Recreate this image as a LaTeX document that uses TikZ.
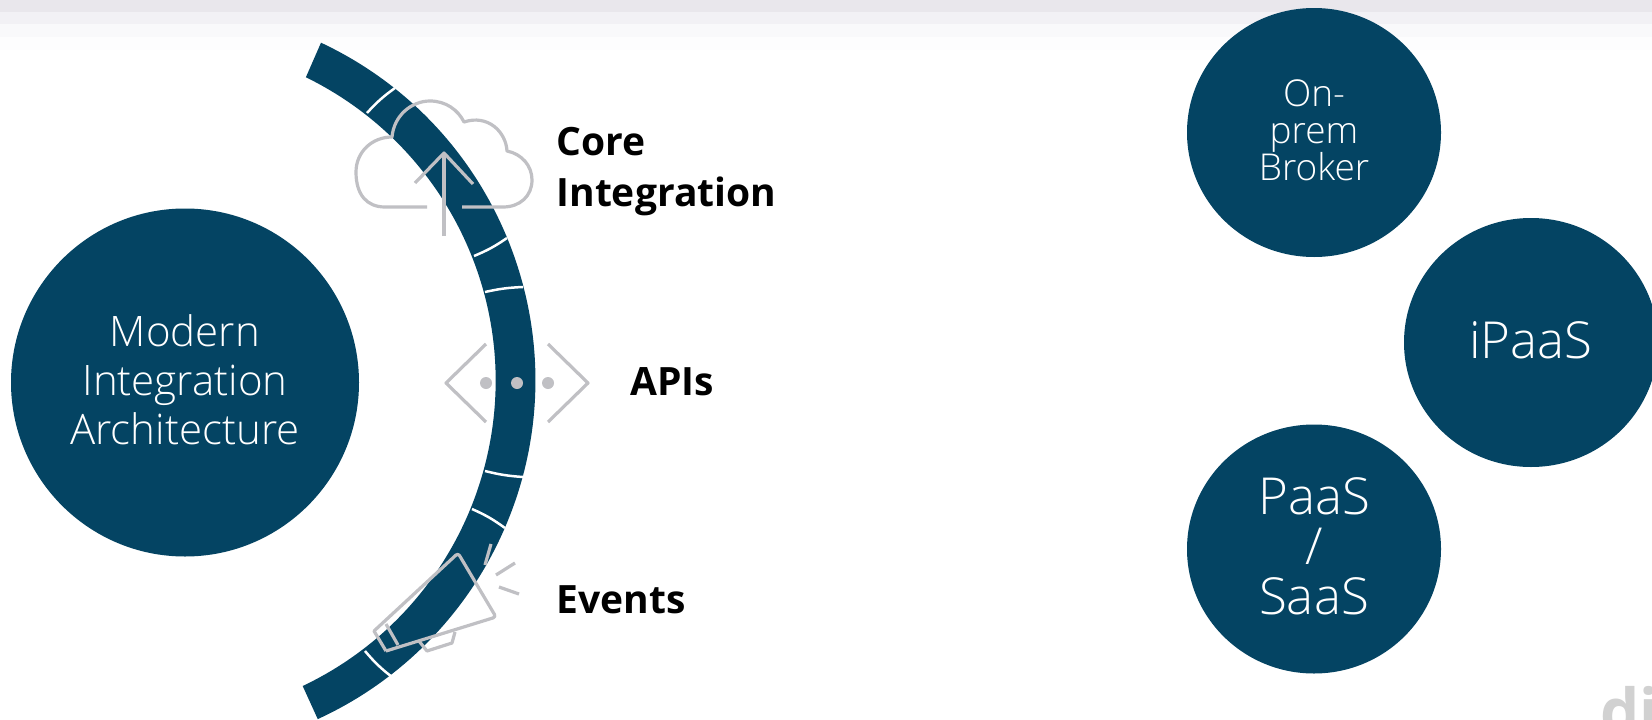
\documentclass[tikz,border=0pt]{standalone}
\usepackage{fontspec}
\usetikzlibrary{shapes.geometric}
\setmainfont{Open Sans}[UprightFont=* Light,BoldFont=* Bold]
\definecolor{bandblue}{HTML}{044463}
\definecolor{icongray}{HTML}{C0C0C4}
\definecolor{stripa}{HTML}{E9E7EC}
\definecolor{stripb}{HTML}{F2F1F5}
\definecolor{stripc}{HTML}{F9F9FB}
\definecolor{stripd}{HTML}{FDFDFE}
\tikzset{
  bluecircle/.style={ellipse,fill=bandblue,minimum width=254pt,minimum height=249pt,inner sep=0pt,text=white,align=center,text depth=5pt},
  bigcircle/.style={bluecircle,minimum width=348pt,minimum height=348pt},
  sidelabel/.style={anchor=west,align=left,font=\fontsize{39}{51}\selectfont\bfseries,text=black},
  iconline/.style={draw=icongray,line width=3.2pt,line join=round},
  gapline/.style={draw=white,line width=2.5pt}
}
\begin{document}
\begin{tikzpicture}[x=1pt,y=-1pt]
\useasboundingbox (0,0) rectangle (1652,720);
\fill[white] (0,0) rectangle (1652,720);
\fill[stripa] (0,0) rectangle (1652,12);
\fill[stripb] (0,12) rectangle (1652,24);
\fill[stripc] (0,24) rectangle (1652,37);
\fill[stripd] (0,37) rectangle (1652,50);

\node[bigcircle,font=\fontsize{42}{49}\selectfont](arch) at (185,382.5) {Modern\\Integration\\Architecture};

% band
\fill[bandblue] (321,42.7) arc[start angle=64.85,end angle=-65.4,radius=372.8pt]
  -- (302.7,686) arc[start angle=-64.6,end angle=64,radius=337.8pt] -- cycle;
\draw[gapline] (367,113) to[bend left=6] (395,88);
\draw[gapline] (474,256) to[bend right=6] (507,238);
\draw[gapline] (485,292) to[bend left=5] (523,287);
\draw[gapline] (485,471) to[bend right=5] (523,477);
\draw[gapline] (472,509) to[bend left=6] (505,528);
\draw[gapline] (365,651) to[bend right=6] (392,677);

% cloud
\draw[iconline] (427,207) -- (385,207) .. controls (367,207) and (356,195) .. (356,172)
  .. controls (356,152) and (372,137) .. (392,137)
  .. controls (394,115) and (412,101) .. (430,101)
  .. controls (446,101) and (458,110) .. (464,122)
  .. controls (488,114) and (506,132) .. (507,151)
  .. controls (522,154) and (532,166) .. (532,180)
  .. controls (532,196) and (520,207) .. (503,207) -- (462,207);
\draw[iconline] (444,236) -- (444,153);
\draw[iconline] (415,183) -- (444,153) -- (473,184);

% brackets
\draw[iconline] (486,344) -- (446,383) -- (486,422);
\draw[iconline] (548,344) -- (588,383) -- (548,422);
\foreach \dotx in {486,517,548}
  \fill[icongray] (\dotx,383) circle (6pt);

% megaphone
\draw[iconline] (386,651) -- (374,631) -- (455,556) [rounded corners=3pt] -- (458,553) -- (496,617) [sharp corners] -- (386,651);
\draw[iconline] (386,624) -- (398,645);
\draw[iconline] (419,641) -- (427,651) -- (452,643) -- (455,632);
\draw[iconline] (491,544) -- (485,565);
\draw[iconline] (515,563) -- (496,575);
\draw[iconline] (499,587) -- (519,594);

\node[sidelabel](core) at (553,172) {Core\\Integration};
\node[sidelabel](apis) at (627,382) {APIs};
\node[sidelabel](events) at (553,600) {Events};

\node[bluecircle,font=\fontsize{37}{37}\selectfont](onprem) at (1314,132.5) {On-\\prem\\Broker};
\node[bluecircle,font=\fontsize{51}{50}\selectfont](ipaas) at (1531,342.5) {iPaaS};
\node[bluecircle,font=\fontsize{51}{50}\selectfont](paas) at (1314,549) {PaaS\\/\\SaaS};

\begin{scope}
\clip (0,0) rectangle (1652,720);
\node[anchor=base west,inner sep=0pt,text=black!18,font=\fontsize{62}{62}\selectfont\bfseries](logo) at (1600,733) {di};
\end{scope}
\end{tikzpicture}
\end{document}
